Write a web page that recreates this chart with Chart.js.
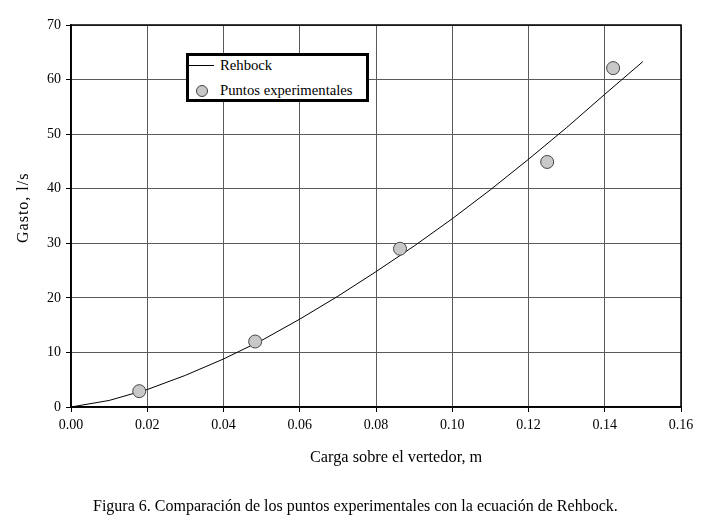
<!DOCTYPE html>
<html>
<head>
<meta charset="utf-8">
<script src="https://cdn.jsdelivr.net/npm/chart.js@4.4.1/dist/chart.umd.min.js"></script>
<style>
  body { margin: 0; background: #fff; }
  #wrap { position: relative; width: 701px; height: 525px; font-family: "Liberation Serif", serif; color: #000; }
  #chart { position: absolute; left: 0; top: 0; }
  .lbl { position: absolute; white-space: nowrap; }
  #ytitle { left: 0; top: 0; font-size: 16px; letter-spacing: 1px; transform-origin: 0 0; transform: translate(14px, 243px) rotate(-90deg); }
  #xtitle { left: 310px; top: 447px; font-size: 16.3px; }
  #caption { left: 93px; top: 497px; font-size: 16px; }
  #legend { position: absolute; left: 186px; top: 53px; width: 177px; height: 43px; border: 3px solid #000; background: #fff; font-size: 14.7px; }
  #legend .row { position: absolute; left: 31px; }
  #legend .ln { position: absolute; left: 0px; top: 9px; width: 25px; height: 0; border-top: 1px solid #000; }
  #legend .pt { position: absolute; left: 7px; top: 29px; width: 10px; height: 10px; border-radius: 50%; background: #c8c8c8; border: 1px solid #444; }
</style>
</head>
<body>
<div id="wrap">
  <canvas id="chart" width="701" height="525"></canvas>
  <div class="lbl" id="ytitle">Gasto, l/s</div>
  <div class="lbl" id="xtitle">Carga sobre el vertedor, m</div>
  <div class="lbl" id="caption">Figura 6. Comparación de los puntos experimentales con la ecuación de Rehbock.</div>
  <div id="legend">
    <div class="ln"></div>
    <div class="row" style="top:1px">Rehbock</div>
    <div class="pt"></div>
    <div class="row" style="top:26px">Puntos experimentales</div>
  </div>
</div>
<script>
// Rehbock curve
var cargaRehbock = [0, 0.01, 0.02, 0.03, 0.04, 0.05, 0.06, 0.07, 0.08, 0.09, 0.10, 0.11, 0.12, 0.13, 0.14, 0.15];
var gastoRehbock = [0, 1.2, 3.2, 5.8, 8.8, 12.2, 16.1, 20.3, 24.8, 29.5, 34.5, 39.8, 45.4, 51.2, 57.3, 63.3];

// experimental points
var cargaExp = [0.0179, 0.0483, 0.0863, 0.1249, 0.1422];
var gastoExp = [2.9, 12.0, 29.0, 44.9, 62.1];

var xMin = 0, xMax = 0.16, xStep = 0.02;
var yMin = 0, yMax = 70, yStep = 10;

function pares(xs, ys) {
    return xs.map(function (x, i) { return { x: x, y: ys[i] }; });
}

var marco = {
    id: 'marco',
    afterDraw: function (chart) {
        var a = chart.chartArea, ctx = chart.ctx;
        ctx.save();
        ctx.strokeStyle = '#000';
        ctx.lineWidth = 1.5;
        ctx.strokeRect(a.left, a.top, a.right - a.left, a.bottom - a.top);
        ctx.restore();
    }
};

var ctx = document.getElementById('chart').getContext('2d');
new Chart(ctx, {
    type: 'scatter',
    data: {
        datasets: [
            {
                label: 'Puntos experimentales',
                data: pares(cargaExp, gastoExp),
                pointRadius: 6.5,
                pointBackgroundColor: '#c8c8c8',
                pointBorderColor: '#444',
                pointBorderWidth: 1,
                showLine: false
            },
            {
                label: 'Rehbock',
                data: pares(cargaRehbock, gastoRehbock),
                showLine: true,
                borderColor: '#000',
                borderWidth: 1,
                pointRadius: 0,
                tension: 0,
                fill: false
            }
        ]
    },
    options: {
        responsive: false,
        animation: false,
        devicePixelRatio: 1,
        layout: { padding: { left: 0, top: 25, right: 20, bottom: 88 } },
        plugins: { legend: { display: false }, tooltip: { enabled: false } },
        scales: {
            x: {
                type: 'linear',
                min: xMin, max: xMax,
                afterFit: function (s) { s.height = 30; },
                ticks: {
                    stepSize: xStep,
                    color: '#000',
                    padding: 5,
                    font: { family: 'Liberation Serif', size: 14 },
                    callback: function (v) { return Number(v).toFixed(2); }
                },
                grid: { color: '#5a5a5a', lineWidth: 1, tickLength: 5, tickColor: '#000' },
                border: { color: '#000', width: 1.5 }
            },
            y: {
                min: yMin, max: yMax,
                afterFit: function (s) { s.width = 71; },
                ticks: {
                    stepSize: yStep,
                    color: '#000',
                    padding: 5,
                    font: { family: 'Liberation Serif', size: 14 }
                },
                grid: { color: '#5a5a5a', lineWidth: 1, tickLength: 5, tickColor: '#000' },
                border: { color: '#000', width: 1.5 }
            }
        }
    },
    plugins: [marco]
});
</script>
</body>
</html>
